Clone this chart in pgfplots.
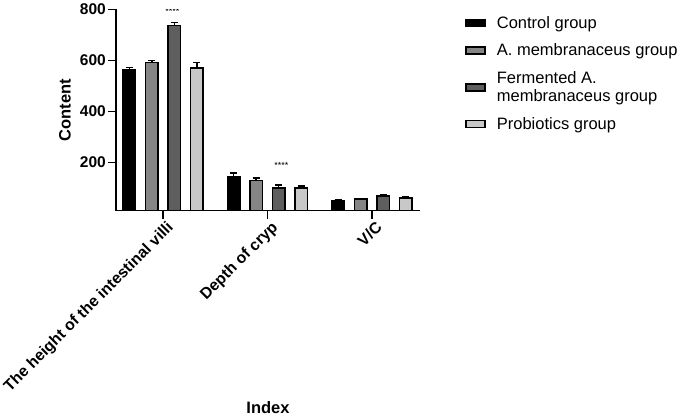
\documentclass[border=0pt]{standalone}
\usepackage{fontspec}
\setmainfont{Liberation Sans}
\usepackage{pgfplots}
\pgfplotsset{compat=1.18}
\definecolor{cA}{HTML}{858585}
\definecolor{cF}{HTML}{5E5E5E}
\definecolor{cP}{HTML}{C8C8C8}
\pgfplotsset{myerr/.style={error bars/.cd, y dir=plus, y explicit,
    error bar style={line width=1.5bp, black},
    error mark options={rotate=90, line width=1.5bp, black, mark size=3.5bp}, /pgfplots/.cd}}
\begin{document}
\begin{tikzpicture}
\useasboundingbox (0,0) rectangle (685bp,-418bp);
\begin{axis}[
  at={(116bp,-210.7bp)}, anchor=south west,
  scale only axis, width=304bp, height=201.4bp,
  xmin=-0.45, xmax=2.46, ymin=10, ymax=800,
  axis x line=bottom, axis y line=left,
  axis line style={-, line width=1.5bp, black},
  ybar=10bp, bar width=12.5bp,
  xtick={0,1,2},
  xticklabels={The height of the intestinal villi, Depth of cryp, V/C},
  ytick={200,400,600,800},
  tick align=outside, major tick length=8bp,
  tick style={line width=1.5bp, black},
  /pgf/number format/assume math mode=true,
  yticklabel style={font=\fontsize{15.5bp}{18bp}\selectfont\bfseries, inner sep=2bp},
  xticklabel style={font=\fontsize{15.8bp}{18bp}\selectfont\bfseries, rotate=45, anchor=north east, inner sep=1bp, yshift=-2bp, xshift=2bp},
  ylabel={Content}, xlabel={Index},
  label style={font=\fontsize{16.5bp}{19bp}\selectfont\bfseries},
  ylabel style={at={(axis description cs:-0.168,0.5)}, anchor=center},
  xlabel style={at={(axis description cs:0.5,-0.98)}, anchor=center},
  every axis plot/.append style={draw=black, line width=1.5bp},
  legend image code/.code={\draw[#1, line width=1.5bp] (0bp,-3.5bp) rectangle (19bp,3.5bp);
    \path[draw=none, fill=none] (0bp,0bp) -- (29bp,0bp);},
  legend style={at={(axis description cs:1.138,0.985)}, anchor=north west,
    draw=none, fill=none, font=\fontsize{16.5bp}{18.5bp}\selectfont,
    row sep=10bp, cells={anchor=west, align=left}},
  legend cell align=left,
]
\addplot[fill=black, myerr] coordinates {(0,563) +- (0,8) (1,145) +- (0,13) (2,50) +- (0,4)};
\addplot[fill=cA, myerr] coordinates {(0,592) +- (0,8) (1,128) +- (0,11) (2,56) +- (0,2)};
\addplot[fill=cF, myerr] coordinates {(0,736) +- (0,13) (1,100) +- (0,10) (2,67) +- (0,5)};
\addplot[fill=cP, myerr] coordinates {(0,570) +- (0,22) (1,100) +- (0,7) (2,60) +- (0,5)};
\legend{Control group, A. membranaceus group, {Fermented A.\\membranaceus group}, Probiotics group}
\node[font=\fontsize{9bp}{10bp}\selectfont] at (axis cs:0.09,792) {****};
\node[font=\fontsize{9bp}{10bp}\selectfont] at (axis cs:1.134,188) {****};
\end{axis}
\end{tikzpicture}
\end{document}
